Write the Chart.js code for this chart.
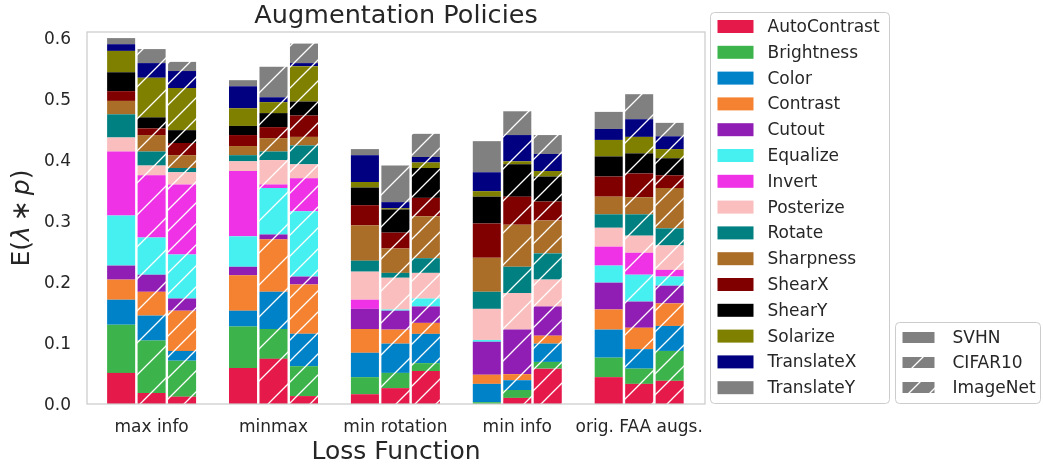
<!DOCTYPE html>
<html>
<head>
<meta charset="utf-8">
<script src="https://cdn.jsdelivr.net/npm/chart.js@4.4.0/dist/chart.umd.min.js"></script>
<style>
  html, body { margin: 0; padding: 0; background: #fff; }
  #wrap { position: relative; width: 1043px; height: 465px; }
</style>
</head>
<body>
<div id="wrap"><canvas id="chart" width="1043" height="465"></canvas></div>
<script>
// Categories
const lossFunctions = ['max info', 'minmax', 'min rotation', 'min info', 'orig. FAA augs.'];
const datasetNames = ['SVHN', 'CIFAR10', 'ImageNet'];
const augmentations = ['AutoContrast', 'Brightness', 'Color', 'Contrast', 'Cutout', 'Equalize', 'Invert',
    'Posterize', 'Rotate', 'Sharpness', 'ShearX', 'ShearY', 'Solarize', 'TranslateX', 'TranslateY'];
const augColors = ['#e6194b', '#3cb44b', '#0082c8', '#f58231', '#911eb4', '#46f0f0', '#f032e6',
    '#fabebe', '#008080', '#aa6e28', '#800000', '#000000', '#808000', '#000080', '#808080'];
const yTicks = [0, 0.1, 0.2, 0.3, 0.4, 0.5, 0.6];

// One array per bar, values in augmentation order
const svhnMaxInfo     = [0.051, 0.079, 0.041, 0.033, 0.023, 0.082, 0.105, 0.023, 0.038, 0.022, 0.016, 0.031, 0.035, 0.011, 0.010];
const cifarMaxInfo    = [0.018, 0.086, 0.041, 0.039, 0.028, 0.061, 0.102, 0.016, 0.023, 0.027, 0.011, 0.018, 0.065, 0.024, 0.023];
const imagenetMaxInfo = [0.012, 0.059, 0.016, 0.066, 0.020, 0.072, 0.115, 0.020, 0.007, 0.021, 0.020, 0.021, 0.069, 0.028, 0.015];

const svhnMinmax      = [0.059, 0.068, 0.026, 0.058, 0.014, 0.050, 0.107, 0.016, 0.010, 0.015, 0.018, 0.015, 0.029, 0.036, 0.010];
const cifarMinmax     = [0.074, 0.049, 0.061, 0.086, 0.008, 0.076, 0.006, 0.040, 0.014, 0.022, 0.018, 0.023, 0.018, 0.008, 0.050];
const imagenetMinmax  = [0.013, 0.049, 0.053, 0.081, 0.013, 0.107, 0.054, 0.023, 0.031, 0.014, 0.035, 0.023, 0.058, 0.005, 0.032];

const svhnMinRotation     = [0.016, 0.028, 0.040, 0.039, 0.033, 0.000, 0.015, 0.046, 0.018, 0.058, 0.033, 0.029, 0.009, 0.044, 0.010];
const cifarMinRotation    = [0.026, 0.025, 0.048, 0.023, 0.031, 0.002, 0.000, 0.052, 0.008, 0.040, 0.026, 0.038, 0.002, 0.010, 0.060];
const imagenetMinRotation = [0.054, 0.013, 0.048, 0.018, 0.027, 0.013, 0.000, 0.042, 0.024, 0.069, 0.030, 0.049, 0.009, 0.009, 0.038];

const svhnMinInfo     = [0.000, 0.003, 0.030, 0.015, 0.054, 0.003, 0.000, 0.051, 0.028, 0.056, 0.056, 0.044, 0.009, 0.031, 0.051];
const cifarMinInfo    = [0.010, 0.013, 0.016, 0.010, 0.073, 0.000, 0.000, 0.060, 0.043, 0.069, 0.046, 0.053, 0.005, 0.043, 0.039];
const imagenetMinInfo = [0.058, 0.011, 0.030, 0.013, 0.048, 0.000, 0.000, 0.044, 0.043, 0.054, 0.031, 0.041, 0.009, 0.028, 0.031];

const svhnOrigFaa     = [0.044, 0.032, 0.046, 0.033, 0.044, 0.028, 0.031, 0.031, 0.022, 0.029, 0.033, 0.033, 0.027, 0.018, 0.028];
const cifarOrigFaa    = [0.033, 0.025, 0.032, 0.035, 0.043, 0.044, 0.036, 0.028, 0.035, 0.028, 0.039, 0.033, 0.027, 0.029, 0.041];
const imagenetOrigFaa = [0.038, 0.049, 0.041, 0.037, 0.029, 0.015, 0.011, 0.040, 0.028, 0.066, 0.021, 0.028, 0.015, 0.021, 0.022];

const svhnBars     = [svhnMaxInfo, svhnMinmax, svhnMinRotation, svhnMinInfo, svhnOrigFaa];
const cifarBars    = [cifarMaxInfo, cifarMinmax, cifarMinRotation, cifarMinInfo, cifarOrigFaa];
const imagenetBars = [imagenetMaxInfo, imagenetMinmax, imagenetMinRotation, imagenetMinInfo, imagenetOrigFaa];
const barsByDataset = [svhnBars, cifarBars, imagenetBars];

const TEXT = '#262626';
const FONT = "'DejaVu Sans', sans-serif";
Chart.defaults.font.family = FONT;
Chart.defaults.color = TEXT;

// hatch spacing per dataset (0 = solid)
const hatchStep = [0, 32, 21];

function hatch(color, step) {
    if (!step) return color;
    const c = document.createElement('canvas');
    c.width = step;
    c.height = step;
    const g = c.getContext('2d');
    g.fillStyle = color;
    g.fillRect(0, 0, step, step);
    g.strokeStyle = '#ffffff';
    g.lineWidth = 1.3;
    g.beginPath();
    g.moveTo(-2, step + 2); g.lineTo(step + 2, -2);
    g.moveTo(-2, 2); g.lineTo(2, -2);
    g.moveTo(step - 2, step + 2); g.lineTo(step + 2, step - 2);
    g.stroke();
    return document.getElementById('chart').getContext('2d').createPattern(c, 'repeat');
}

// build the datasets: one per (dataset, augmentation)
const chartDatasets = [];
barsByDataset.forEach((bars, d) => {
    augmentations.forEach((aug, a) => {
        chartDatasets.push({
            label: datasetNames[d] + ' ' + aug,
            stack: datasetNames[d],
            data: lossFunctions.map((_, i) => ({ x: i, y: bars[i][a] })),
            backgroundColor: hatch(augColors[a], hatchStep[d]),
            borderWidth: 0
        });
    });
});

function box(ctx, x, y, w, h, r) {
    ctx.beginPath();
    if (ctx.roundRect) ctx.roundRect(x, y, w, h, r);
    else ctx.rect(x, y, w, h);
    ctx.fillStyle = '#ffffff';
    ctx.fill();
    ctx.strokeStyle = '#cccccc';
    ctx.lineWidth = 1;
    ctx.stroke();
}

// y label E(λ * p) with italic λ and p, drawn rotated
function drawYLabel(ctx, cx, cy) {
    const parts = [['E(', ''], ['λ', 'italic '], ['\u2009∗\u2009', ''], ['p', 'italic '], [')', '']];
    ctx.save();
    ctx.translate(cx, cy);
    ctx.rotate(-Math.PI / 2);
    ctx.textBaseline = 'middle';
    ctx.textAlign = 'left';
    let total = 0;
    parts.forEach(([t, s]) => { ctx.font = s + '25px ' + FONT; total += ctx.measureText(t).width; });
    let x = -total / 2;
    parts.forEach(([t, s]) => {
        ctx.font = s + '25px ' + FONT;
        ctx.fillText(t, x, 0);
        x += ctx.measureText(t).width;
    });
    ctx.restore();
}

const decorations = {
    id: 'decorations',
    afterDatasetsDraw(chart) {
        const ctx = chart.ctx, a = chart.chartArea;
        ctx.save();
        ctx.strokeStyle = '#cccccc';
        ctx.lineWidth = 1.25;
        ctx.strokeRect(a.left, a.top, a.right - a.left, a.bottom - a.top);
        ctx.restore();
    },
    afterDraw(chart) {
        const ctx = chart.ctx, a = chart.chartArea;
        ctx.save();
        ctx.fillStyle = TEXT;
        // title
        ctx.font = '25.5px ' + FONT;
        ctx.textAlign = 'center';
        ctx.textBaseline = 'middle';
        ctx.fillText('Augmentation Policies', (a.left + a.right) / 2, 16);
        drawYLabel(ctx, 22, (a.top + a.bottom) / 2);

        // augmentation legend
        const lx = a.right + 5.5, ly = 12.5;
        box(ctx, lx, ly, 179, 391, 4);
        ctx.font = '17px ' + FONT;
        ctx.textAlign = 'left';
        ctx.textBaseline = 'middle';
        augmentations.forEach((name, i) => {
            const cy = ly + 14 + i * 25.8;
            ctx.fillStyle = augColors[i];
            ctx.fillRect(lx + 7, cy - 6.5, 36, 13);
            ctx.fillStyle = TEXT;
            ctx.fillText(name, lx + 57, cy + 1);
        });

        // dataset legend
        const dx = 895.5, dy = 322.5;
        box(ctx, dx, dy, 145, 81, 4);
        datasetNames.forEach((name, i) => {
            const cy = dy + 15 + i * 25;
            ctx.fillStyle = hatch('#808080', hatchStep[i]);
            ctx.fillRect(dx + 7, cy - 5.5, 32, 11);
            ctx.fillStyle = TEXT;
            ctx.fillText(name, dx + 57, cy + 1);
        });
        ctx.restore();
    }
};

function noOverflow(scale) {
    scale.paddingTop = 0;
    scale.paddingBottom = 0;
    scale.paddingLeft = 0;
    scale.paddingRight = 0;
}

new Chart(document.getElementById('chart'), {
    type: 'bar',
    data: { datasets: chartDatasets },
    options: {
        responsive: false,
        devicePixelRatio: 1,
        animation: false,
        events: [],
        categoryPercentage: 0.75,
        barPercentage: 0.92,
        layout: { padding: { top: 32, right: 338, left: 0, bottom: 0 } },
        plugins: {
            legend: { display: false },
            title: { display: false },
            tooltip: { enabled: false }
        },
        scales: {
            x: {
                type: 'linear',
                stacked: true,
                offset: false,
                min: -0.53,
                max: 4.54,
                grid: { display: false, drawTicks: false },
                border: { display: false },
                afterFit(scale) { scale.height = 61; noOverflow(scale); },
                ticks: {
                    stepSize: 1,
                    includeBounds: false,
                    autoSkip: false,
                    maxRotation: 0,
                    padding: 13,
                    font: { size: 17 },
                    color: TEXT,
                    callback: (v) => lossFunctions[v]
                },
                title: {
                    display: true,
                    text: 'Loss Function',
                    font: { size: 25, lineHeight: 1 },
                    color: TEXT,
                    padding: { top: 0, bottom: 0 }
                }
            },
            y: {
                stacked: true,
                min: 0,
                max: 0.61,
                grid: { display: false, drawTicks: false },
                border: { display: false },
                afterFit(scale) { scale.width = 87; noOverflow(scale); },
                afterBuildTicks(scale) { scale.ticks = yTicks.map(v => ({ value: v })); },
                ticks: {
                    padding: 16,
                    labelOffset: 1.5,
                    font: { size: 17 },
                    color: TEXT,
                    callback: (v) => v.toFixed(1)
                },
                title: { display: false }
            }
        }
    },
    plugins: [decorations]
});
</script>
</body>
</html>
